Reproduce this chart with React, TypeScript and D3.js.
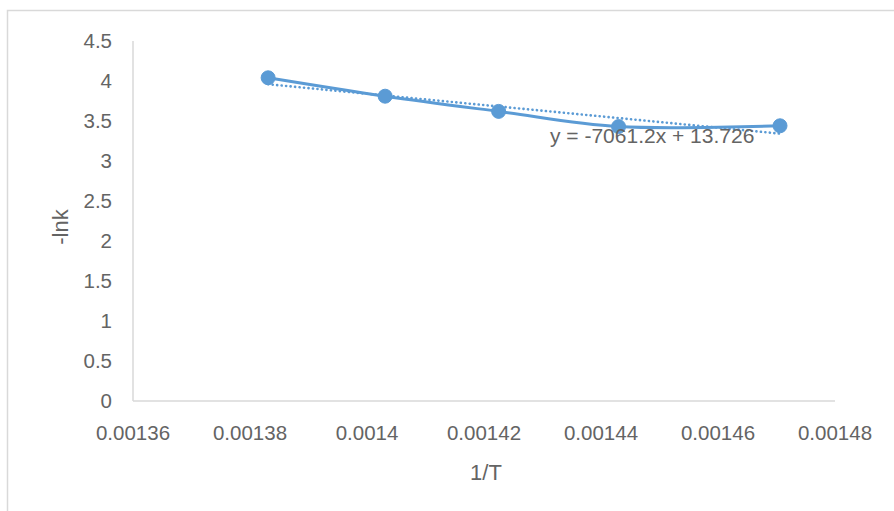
import React from "react";
import * as d3 from "d3";

const invT = [0.0013831, 0.0014031, 0.0014225, 0.001443, 0.0014706];
const negLnK = [4.04, 3.81, 3.62, 3.43, 3.44];
const trendSlope = -7061.2;
const trendIntercept = 13.726;
const xTicks = [0.00136, 0.00138, 0.0014, 0.00142, 0.00144, 0.00146, 0.00148];
const yTicks = [0, 0.5, 1, 1.5, 2, 2.5, 3, 3.5, 4, 4.5];
const equationLabel = "y = -7061.2x + 13.726";
const xTitle = "1/T";
const yTitle = "-lnk";

const W = 894;
const H = 511;
const FONT = "'Liberation Sans', Arial, sans-serif";
const BLUE = "#5B9BD5";
const TEXT = "#646464";

export default function App() {
  const x = d3.scaleLinear().domain([0.00136, 0.00148]).range([133, 835]);
  const y = d3.scaleLinear().domain([0, 4.5]).range([401, 41]);
  const pts: [number, number][] = invT.map((v, i) => [x(v), y(negLnK[i])]);
  const line = d3.line().curve(d3.curveCatmullRom.alpha(0.5));
  const x0 = invT[0];
  const x1 = invT[invT.length - 1];
  const trend = d3.line()([
    [x(x0), y(trendSlope * x0 + trendIntercept)],
    [x(x1), y(trendSlope * x1 + trendIntercept)],
  ]);
  const fmtX = (v: number) => String(+v.toFixed(5));
  return (
    <svg
      width={W}
      height={H}
      style={{ position: "absolute", left: 0, top: 0, background: "#fff" }}
      fontFamily={FONT}
    >
      <rect x={7.5} y={10.5} width={W + 20} height={H + 20} fill="#fff" stroke="#d9d9d9" strokeWidth={1.5} />
      <line x1={x.range()[0]} x2={x.range()[0]} y1={y(4.5)} y2={y(0)} stroke="#d9d9d9" strokeWidth={1.5} />
      <line x1={x.range()[0]} x2={x.range()[1]} y1={y(0)} y2={y(0)} stroke="#d9d9d9" strokeWidth={1.5} />
      {yTicks.map((t) => (
        <text key={t} x={112} y={y(t)} dy="0.35em" textAnchor="end" fontSize={20.5} fill={TEXT}>
          {t}
        </text>
      ))}
      {xTicks.map((t) => (
        <text key={t} x={x(t)} y={440} textAnchor="middle" fontSize={20.5} fill={TEXT}>
          {fmtX(t)}
        </text>
      ))}
      <text x={486} y={480} textAnchor="middle" fontSize={22} fill={TEXT}>
        {xTitle}
      </text>
      <text transform={`translate(68,227) rotate(-90)`} textAnchor="middle" fontSize={22} fill={TEXT}>
        {yTitle}
      </text>
      <path d={line(pts) || ""} fill="none" stroke={BLUE} strokeWidth={3} strokeLinejoin="round" />
      <path d={trend || ""} fill="none" stroke={BLUE} strokeWidth={2.6} strokeDasharray="0.1 4.4" strokeLinecap="round" />
      {pts.map((p, i) => (
        <circle key={i} cx={p[0]} cy={p[1]} r={7} fill={BLUE} stroke={BLUE} strokeWidth={1} />
      ))}
      <text x={550} y={143} fontSize={21} fill={TEXT}>
        {equationLabel}
      </text>
    </svg>
  );
}
